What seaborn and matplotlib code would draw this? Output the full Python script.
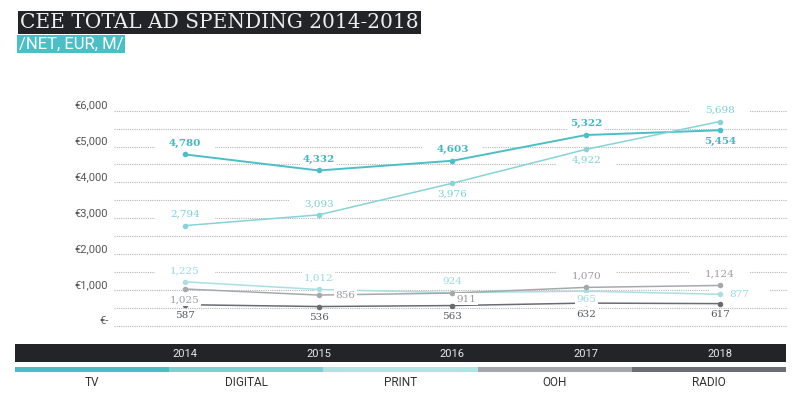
import numpy as np
import pandas as pd
import matplotlib.pyplot as plt
import seaborn as sns
from matplotlib.patches import Rectangle

years = [2014, 2015, 2016, 2017, 2018]
channels = ["TV", "DIGITAL", "PRINT", "OOH", "RADIO"]
tv = [4780, 4332, 4603, 5322, 5454]
digital = [2794, 3093, 3976, 4922, 5698]
print_ = [1225, 1012, 924, 965, 877]
ooh = [1025, 856, 911, 1070, 1124]
radio = [587, 536, 563, 632, 617]
ytick_vals = [0, 1000, 2000, 3000, 4000, 5000, 6000]
ytick_labels = ["€-", "€1,000", "€2,000", "€3,000", "€4,000", "€5,000", "€6,000"]

line_colors = {"TV": "#4bbfc6", "DIGITAL": "#86d3d8", "PRINT": "#a9dfe2",
               "OOH": "#a6a9ac", "RADIO": "#686c71"}
strip_colors = ["#4dbdc4", "#7ccfd3", "#b1e2e4", "#a3a6aa", "#6c7076"]
label_colors = {"TV": "#3fb8c0", "DIGITAL": "#7fcfd5", "PRINT": "#9ad9dd",
                "OOH": "#9a9da1", "RADIO": "#55595e"}
# label offsets in points for each point
offs = {
    "TV": [(0, 8), (0, 8), (0, 8), (0, 8), (0, -8)],
    "DIGITAL": [(0, 8), (0, 8), (0, -8), (0, -8), (0, 8)],
    "PRINT": [(0, 8), (0, 8), (0, 8), (0, -6), (14, 0)],
    "OOH": [(0, -8), (19, 0), (10, -4.5), (0, 8), (0, 8)],
    "RADIO": [(0, -8), (0, -8), (0, -8), (0, -8), (0, -8)],
}

values = {"TV": tv, "DIGITAL": digital, "PRINT": print_, "OOH": ooh, "RADIO": radio}
df = pd.DataFrame([(c, y, v) for c in channels for y, v in zip(years, values[c])],
                  columns=["channel", "year", "value"])

sns.set_style("white")
fig = plt.figure(figsize=(8, 3.94), dpi=100)
ax = fig.add_axes([0.1425, 0.1596, 0.841, 0.5731])
ax.set_facecolor("none")

for c in channels:
    sub = df[df.channel == c]
    sns.lineplot(data=sub, x="year", y="value", color=line_colors[c], ax=ax,
                 lw=1.4 if c == "TV" else 1.1, marker="o", markersize=4,
                 markeredgewidth=0, zorder=2, legend=False)
    for (x, v), o in zip(zip(sub.year, sub.value), offs[c]):
        ax.annotate(f"{v:,}", (x, v), xytext=o, textcoords="offset points",
                    ha="center", va="center", fontsize=7.5, family="DejaVu Serif",
                    color=label_colors[c], fontweight="bold" if c == "TV" else "normal",
                    zorder=3,
                    bbox=dict(boxstyle="square,pad=0.15", fc="white", ec="none"))
        # wider white gap in the dotted grid around the label
        ax.annotate("\u2007" * 9, (x, v), xytext=o, textcoords="offset points",
                    ha="center", va="center", fontsize=7.5, zorder=1,
                    bbox=dict(boxstyle="square,pad=0.0", fc="white", ec="none"))

ax.set_xlim(2013.47, 2018.5)
ax.set_ylim(-150, 6150)
ax.set_yticks(np.arange(0, 6001, 500))
labs = dict(zip(ytick_vals, ytick_labels))
ax.set_yticklabels([labs.get(int(t), "") for t in np.arange(0, 6001, 500)])
ax.set_xticks(years)
ax.set_xticklabels([str(y) for y in years])
ax.grid(axis="y", color="#b5b5b5", linestyle=(0, (1, 1)), lw=0.8, zorder=0)
ax.grid(axis="x", visible=False)
ax.set_axisbelow(True)
for s in ax.spines.values():
    s.set_visible(False)
ax.tick_params(axis="y", length=0, pad=4, labelsize=8, labelcolor="#555555")
ax.tick_params(axis="x", length=0, pad=13, labelsize=8, labelcolor="#e8e8e8")
for t in ax.get_yticklabels():
    t.set_va("bottom")
    t.set_family("Roboto")
for t in ax.get_xticklabels():
    t.set_family("Roboto")
ax.set_xlabel("")
ax.set_ylabel("")

# dark band under the plot
H = 394.0
fig.patches.append(Rectangle((15 / 800, 1 - 362 / H), 771 / 800, 18 / H,
                             transform=fig.transFigure, fc="#222427", ec="none", zorder=-1))
seg = 771 / 5
for i, (c, col) in enumerate(zip(channels, strip_colors)):
    x0 = 15 + i * seg
    fig.patches.append(Rectangle((x0 / 800, 1 - 372 / H), seg / 800, 5 / H,
                                 transform=fig.transFigure, fc=col, ec="none", zorder=-1))
    fig.text((x0 + seg / 2) / 800, 1 - 382 / H, c, ha="center", va="center",
             fontsize=8.5, color="#333333", family="Roboto")

fig.text(20 / 800, 1 - 22.5 / H, "CEE TOTAL AD SPENDING 2014-2018", ha="left", va="center",
         fontsize=14.5, color="#eeeeee", family="DejaVu Serif",
         bbox=dict(boxstyle="square,pad=0.12", fc="#222427", ec="none"))
fig.text(19 / 800, 1 - 44 / H, "/NET, EUR, M/", ha="left", va="center",
         fontsize=12, color="white", family="Roboto",
         bbox=dict(boxstyle="square,pad=0.1", fc="#4bbfc6", ec="none"))

fig.savefig("out.png", dpi=100)
